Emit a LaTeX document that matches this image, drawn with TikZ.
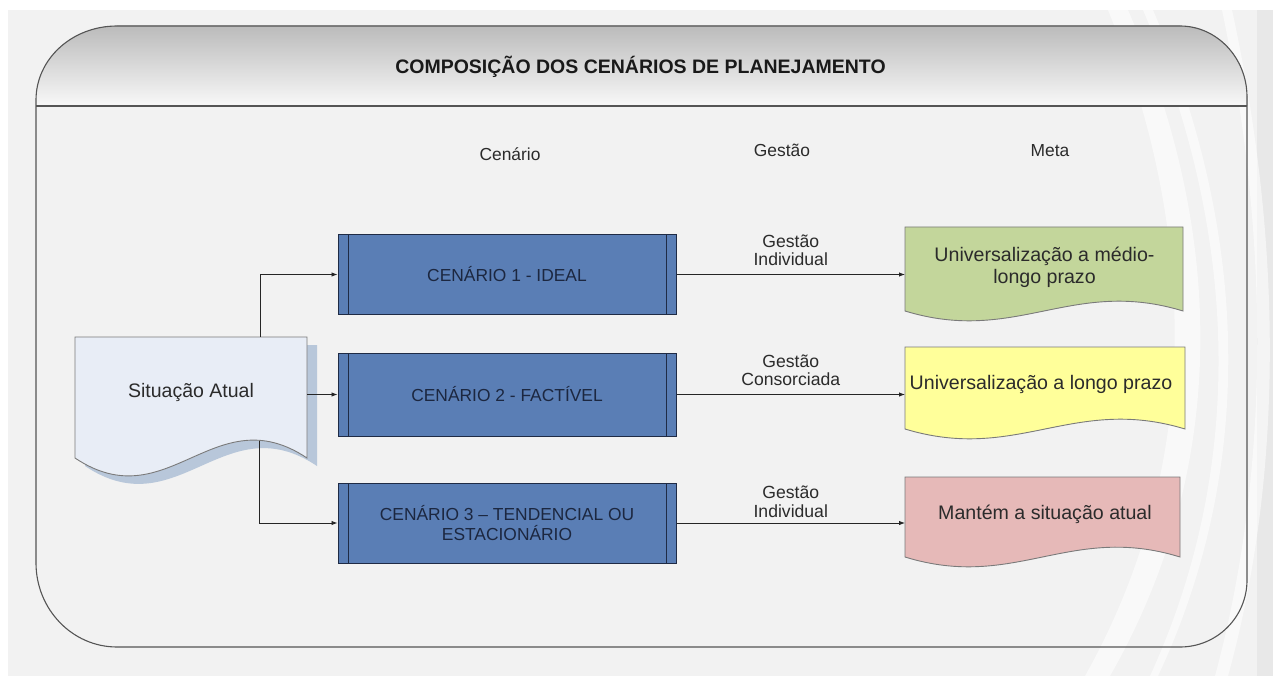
\documentclass[tikz,border=0pt]{standalone}
\usepackage{fontspec}
\setmainfont{Liberation Sans}
\usetikzlibrary{arrows.meta}
\definecolor{bgc}{HTML}{F2F2F2}
\definecolor{hdtop}{HTML}{BBBBBB}
\definecolor{hdbot}{HTML}{F8F8F8}
\definecolor{framec}{HTML}{555555}
\definecolor{scblue}{HTML}{5A7EB5}
\definecolor{navy}{HTML}{1F2B45}
\definecolor{navytext}{HTML}{1C2740}
\definecolor{txt}{HTML}{2B2B2B}
\definecolor{docb}{HTML}{7A7A7A}
\definecolor{safill}{HTML}{E8EDF6}
\definecolor{sashadow}{HTML}{B8C7DA}
\definecolor{greenf}{HTML}{C3D69B}
\definecolor{yellowf}{HTML}{FFFF9A}
\definecolor{pinkf}{HTML}{E6B9B8}
\newcommand{\setfs}[2]{\fontsize{#1}{#2}\selectfont}
\begin{document}
\begin{tikzpicture}[x=1pt,y=-1pt,
  conn/.style={draw=black!85, line width=0.9pt, -{Latex[length=6pt,width=4.5pt]}},
  scen/.style={draw=navy, line width=1pt, fill=scblue, minimum width=338pt,
    text=navytext, font=\setfs{17.4}{20.5}, align=center, inner sep=0pt,
    path picture={
      \draw[navy, line width=1pt] ([xshift=10pt]path picture bounding box.north west) -- ([xshift=10pt]path picture bounding box.south west);
      \draw[navy, line width=1pt] ([xshift=-10pt]path picture bounding box.north east) -- ([xshift=-10pt]path picture bounding box.south east);}},
  docline/.style={draw=docb, line width=0.9pt},
  metatext/.style={font=\setfs{19.6}{21.5}, text=txt, align=center, inner sep=0pt},
  lbl/.style={font=\setfs{17.6}{18.5}, text=txt, align=center, inner sep=0pt},
  colhead/.style={font=\setfs{17.4}{20}, text=txt, anchor=base, inner sep=0pt},
  framel/.style={draw=framec, line width=1.1pt},
  swoosh/.style={fill=white, opacity=0.55}
]
\useasboundingbox (0,0) rectangle (1273,676);
\fill[white] (0,0) rectangle (1273,676);
\fill[bgc] (8,10) rectangle (1273,676);
\fill[black!9] (1257,10) rectangle (1273,676);
% decorative swooshes
\fill[swoosh] (1108,10) .. controls (1205,250) and (1195,480) .. (1085,676) -- (1110,676) .. controls (1222,480) and (1232,250) .. (1128,10) -- cycle;
\fill[swoosh] (1143,10) .. controls (1245,250) and (1240,480) .. (1150,676) -- (1158,676) .. controls (1250,480) and (1255,250) .. (1153,10) -- cycle;
\fill[swoosh] (1222,10) .. controls (1272,250) and (1268,480) .. (1215,676) -- (1228,676) .. controls (1282,480) and (1284,250) .. (1232,10) -- cycle;

% frame header band
\fill[top color=hdtop, bottom color=hdbot] (36,106) -- (36,100) .. controls (36,59) and (72,26) .. (117,26) -- (1180,26) .. controls (1217,26) and (1247,58) .. (1247,97) -- (1247,106) -- cycle;
\draw[framel] (36,100) .. controls (36,59) and (72,26) .. (117,26) -- (1180,26) .. controls (1217,26) and (1247,58) .. (1247,97) -- (1247,580) .. controls (1247,617) and (1217,647) .. (1180,647) -- (117,647) .. controls (72,647) and (36,609) .. (36,563) -- cycle;
\draw[framel] (36,106) -- (1247,106);
\node[font=\bfseries\setfs{19.5}{22}, text=black!90, anchor=base, inner sep=0pt] (title) at (640.5,73.5) {COMPOSIÇÃO DOS CENÁRIOS DE PLANEJAMENTO};

% column headers
\node[colhead] (hc) at (510,161) {Cenário};
\node[colhead] (hg) at (782,157) {Gestão};
\node[colhead] (hm) at (1050,157) {Meta};

% Situacao Atual document
\fill[sashadow] (85,345) -- (317,345) -- (317,466) .. controls (224.2,404) and (177.8,528) .. (85,466) -- cycle;
\filldraw[docline, fill=safill] (75,337) -- (307,337) -- (307,458) .. controls (214.2,396) and (167.8,520) .. (75,458) -- cycle;
\node[font=\setfs{19.5}{22}, text=txt, anchor=base, inner sep=0pt] (sa) at (191,397) {Situação Atual};
\coordinate (satop) at (260,337);
\coordinate (saright) at (307,394.5);
\coordinate (sabot) at (259,441);

% scenario boxes
\node[scen, minimum height=79pt] (c1) at (507,274.5) {CENÁRIO 1 - IDEAL};
\node[scen, minimum height=83pt] (c2) at (507,394.5) {CENÁRIO 2 - FACTÍVEL};
\node[scen, minimum height=80pt] (c3) at (507,523) {CENÁRIO 3 – TENDENCIAL OU\\ESTACIONÁRIO};

% meta documents
\filldraw[docline, fill=greenf] (905,227) -- (1183,227) -- (1183,311) .. controls (1071.8,277) and (1016.2,345) .. (905,311) -- cycle;
\filldraw[docline, fill=yellowf] (905,347) -- (1185,347) -- (1185,429) .. controls (1073,395) and (1017,463) .. (905,429) -- cycle;
\filldraw[docline, fill=pinkf] (905,477) -- (1180,477) -- (1180,557) .. controls (1070,523) and (1015,591) .. (905,557) -- cycle;
\node[metatext, anchor=base] (m1) at (1044.5,283) {Universalização a médio-\\longo prazo};
\node[metatext, anchor=base] (m2) at (1041,389) {Universalização a longo prazo};
\node[metatext, anchor=base] (m3) at (1045,519) {Mantém a situação atual};
\coordinate (m1in) at (905,274.5);
\coordinate (m2in) at (905,394.5);
\coordinate (m3in) at (905,523);

% connectors
\draw[conn] (satop) |- (c1.west);
\draw[conn] (saright) -- (c2.west);
\draw[conn] (sabot) |- (c3.west);
\draw[conn] (c1.east) -- node[lbl, above=8pt] (g1) {Gestão\\Individual} (m1in);
\draw[conn] (c2.east) -- node[lbl, above=8pt] (g2) {Gestão\\Consorciada} (m2in);
\draw[conn] (c3.east) -- node[lbl, above=5pt] (g3) {Gestão\\Individual} (m3in);
\end{tikzpicture}
\end{document}
